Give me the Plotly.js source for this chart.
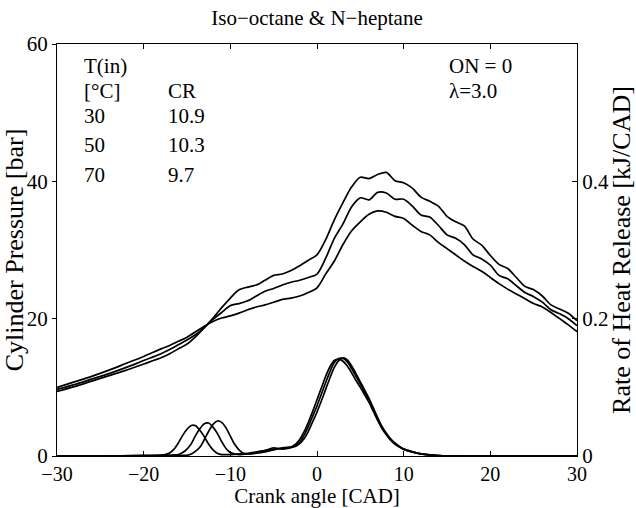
<!DOCTYPE html>
<html><head><meta charset="utf-8">
<script src="https://cdn.plot.ly/plotly-3.0.1.min.js"></script>
<style>body{margin:0;background:#fff}</style></head>
<body><div id="chart" style="width:636px;height:508px"></div>
<script>
// Crank angle grid for cylinder pressure [CAD]
const crankP = [-30,-28,-26,-24,-22,-20,-18,-17,-16,-15,-14,-13,-12,-11,-10,-9,-8,-7,-6,-5,-4,-3,-2,-1,0,1,2,3,4,5,6,7,8,9,10,11,12,13,14,15,16,17,18,19,20,21,22,23,24,25,26,27,28,29,30];
// Cylinder pressure [bar]
const pressA = [9.4,10.1,10.9,11.7,12.5,13.4,14.3,14.9,15.6,16.3,17.4,18.7,20.1,21.6,23.0,24.2,24.6,24.9,25.6,26.3,26.5,27.0,27.7,28.5,29.3,31.5,34.4,36.9,39.2,40.6,40.4,41.0,41.3,40.1,39.8,39.0,37.7,37.1,36.4,34.9,34.1,33.5,31.6,30.7,29.2,27.9,27.3,26.0,24.7,24.2,23.3,22.0,21.4,20.8,19.7];
const pressB = [9.7,10.4,11.2,12.0,12.9,13.9,14.9,15.5,16.2,16.9,17.7,18.7,19.9,20.9,21.9,22.2,22.6,23.3,24.0,24.4,24.9,25.3,25.6,26.0,26.5,28.8,31.7,33.8,36.3,37.6,37.3,38.4,38.3,37.4,37.4,36.4,35.1,34.8,33.6,32.2,31.7,30.8,29.3,28.7,27.8,26.3,25.8,24.8,23.8,23.2,22.4,21.3,20.7,20.0,19.0];
const pressC = [10.0,10.8,11.6,12.5,13.5,14.5,15.6,16.1,16.7,17.3,18.1,18.9,19.6,20.1,20.4,20.8,21.3,21.7,22.0,22.4,22.8,23.0,23.3,23.8,24.5,26.5,28.4,30.8,32.8,34.1,35.2,35.7,35.5,34.9,34.6,33.6,32.7,32.2,31.1,30.2,29.3,28.4,27.6,26.9,26.0,25.1,24.3,23.6,22.9,22.2,21.7,20.9,20.0,19.1,18.1];

// Crank angle grid for rate of heat release [CAD]
const crankH = [-30,-25,-20,-18,-17,-16.5,-16,-15.5,-15,-14.5,-14,-13.5,-13,-12.5,-12,-11.5,-11,-10.5,-10,-9.5,-9,-8.5,-8,-7,-6,-5,-4,-3,-2.5,-2,-1.5,-1,-0.5,0,0.5,1,1.5,2,2.5,3,3.5,4,4.5,5,5.5,6,6.5,7,7.5,8,8.5,9,9.5,10,11,12,13,14,15,20,25,30];
// Rate of heat release [kJ/CAD]
const hrrA = [0,0,0.0005,0.001,0.0045,0.010,0.019,0.030,0.039,0.0445,0.044,0.037,0.028,0.017,0.009,0.004,0.002,0.002,0.002,0.0025,0.003,0.0035,0.004,0.006,0.008,0.010,0.011,0.013,0.017,0.024,0.035,0.049,0.065,0.082,0.099,0.116,0.130,0.139,0.141,0.138,0.131,0.121,0.110,0.100,0.089,0.078,0.065,0.052,0.040,0.031,0.023,0.017,0.013,0.010,0.006,0.003,0.0015,0.0007,0.0002,0,0,0];
const hrrB = [0,0,0.0005,0.0008,0.001,0.0015,0.002,0.005,0.010,0.018,0.030,0.040,0.047,0.048,0.042,0.033,0.021,0.011,0.005,0.003,0.002,0.0025,0.003,0.005,0.008,0.012,0.010,0.012,0.015,0.020,0.030,0.043,0.058,0.073,0.090,0.107,0.123,0.136,0.142,0.142,0.137,0.127,0.116,0.105,0.093,0.081,0.067,0.053,0.041,0.032,0.024,0.018,0.014,0.010,0.006,0.003,0.0015,0.0007,0.0002,0,0,0];
const hrrC = [0,0,0.0005,0.0008,0.001,0.001,0.001,0.001,0.001,0.003,0.007,0.013,0.024,0.036,0.046,0.051,0.049,0.041,0.029,0.017,0.009,0.004,0.003,0.004,0.006,0.009,0.012,0.013,0.014,0.018,0.025,0.036,0.050,0.064,0.080,0.097,0.114,0.129,0.139,0.143,0.140,0.131,0.120,0.108,0.096,0.084,0.070,0.056,0.043,0.033,0.025,0.019,0.014,0.010,0.006,0.003,0.0015,0.0007,0.0002,0,0,0];

const xTicks = [-30,-20,-10,0,10,20,30];
const pTicks = [0,20,40,60];
const hTicks = [0,0.2,0.4];
const hTickText = ['0','0.2','0.4'];

const FONT = '"Liberation Serif", "Times New Roman", serif';
const lineStyle = {color:'#000', width:1.7, shape:'spline', smoothing:0.8};

const traces = [];
[pressA, pressB, pressC].forEach(p => traces.push({x:crankP, y:p, type:'scatter', mode:'lines', line:lineStyle, xaxis:'x', yaxis:'y', hoverinfo:'skip'}));
[hrrA, hrrB, hrrC].forEach(h => traces.push({x:crankH, y:h, type:'scatter', mode:'lines', line:lineStyle, xaxis:'x', yaxis:'y2', hoverinfo:'skip'}));

const ann = (text, x, y) => ({text, x, y, xref:'paper', yref:'paper', xanchor:'left', yanchor:'middle', showarrow:false, borderpad:0, font:{family:FONT, size:21, color:'#000'}});

const layout = {
  width:636, height:508,
  paper_bgcolor:'#fff', plot_bgcolor:'#fff',
  showlegend:false,
  margin:{l:57, r:59, t:44, b:52},
  title:{text:'Iso\u2212octane &amp; N\u2212heptane', font:{family:FONT, size:21, color:'#000'}, x:0.5, xref:'paper', y:0.965, yref:'container', yanchor:'middle'},
  xaxis:{range:[-30,30], tickvals:xTicks, ticktext:xTicks.map(v=>v<0?'\u2212'+Math.abs(v):String(v)), ticks:'inside', ticklen:5, tickcolor:'#000', showline:true, linecolor:'#000', linewidth:1, mirror:'ticks', showgrid:false, zeroline:false,
    tickfont:{family:FONT, size:20, color:'#000'}, title:{text:'Crank angle [CAD]', font:{family:FONT, size:21, color:'#000'}, standoff:5}},
  yaxis:{range:[0,60], tickvals:pTicks, ticks:'outside', ticklen:4, tickcolor:'#000', showline:true, linecolor:'#000', linewidth:1, showgrid:false, zeroline:false,
    tickfont:{family:FONT, size:21, color:'#000'}, title:{text:'Cylinder Pressure [bar]', font:{family:FONT, size:26, color:'#000'}, standoff:1}},
  yaxis2:{range:[0,0.6], tickvals:hTicks, ticktext:hTickText, overlaying:'y', side:'right', ticks:'inside', ticklen:5, tickcolor:'#000', showline:true, linecolor:'#000', linewidth:1, showgrid:false, zeroline:false,
    tickfont:{family:FONT, size:21, color:'#000'}, title:{text:'Rate of Heat Release [kJ/CAD]', font:{family:FONT, size:26, color:'#000'}, standoff:2}},
  annotations:[
    ann('T(in)', 0.05, 0.946),
    ann('[°C]', 0.05, 0.886),
    ann('CR', 0.2115, 0.886),
    ann('30', 0.05, 0.826), ann('10.9', 0.2115, 0.826),
    ann('50', 0.05, 0.754), ann('10.3', 0.2115, 0.754),
    ann('70', 0.05, 0.682), ann('9.7', 0.2115, 0.682),
    ann('ON = 0', 0.751, 0.947),
    ann('\u03bb=3.0', 0.751, 0.886)
  ]
};

Plotly.newPlot('chart', traces, layout, {displayModeBar:false, staticPlot:true});
</script>
</body></html>
